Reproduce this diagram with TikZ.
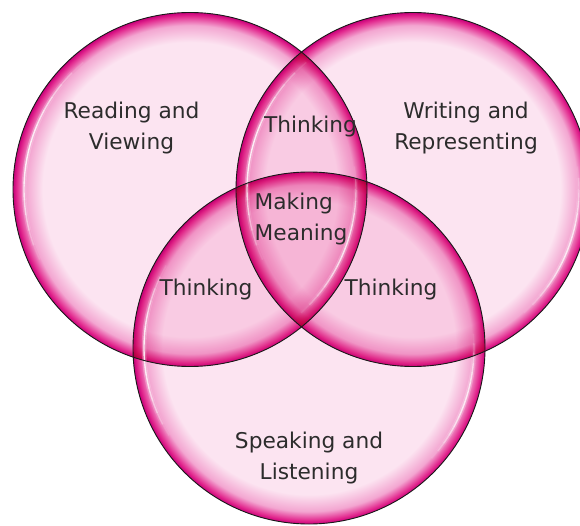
\documentclass[tikz,border=0pt]{standalone}
\usepackage{fontspec}
\setmainfont{DejaVu Sans}
\usetikzlibrary{calc}
\definecolor{lightpk}{HTML}{FCE4F1}
\definecolor{midpk}{HTML}{F3A6D1}
\definecolor{rimpk}{HTML}{E2288E}
\definecolor{rimdk}{HTML}{C8007A}
\definecolor{txt}{HTML}{2C2C2C}
\pgfdeclareradialshading{glassring}{\pgfpoint{0bp}{0bp}}{color(0bp)=(lightpk); color(20.8bp)=(lightpk); color(23.2bp)=(midpk); color(24.5bp)=(rimpk); color(25bp)=(rimdk); color(50bp)=(rimdk)}
\newcommand\mkglint[6]{% center, radius, start, end, width, max opacity
  \foreach \i in {0,...,13}{%
    \pgfmathsetmacro\aa{#3+(#4-#3)*\i/14}%
    \pgfmathsetmacro\ab{#3+(#4-#3)*(\i+1)/14}%
    \pgfmathsetmacro\op{#6*sin(180*(\i+0.5)/14)}%
    \draw[white, line width=#5, draw opacity=\op, line cap=butt] ($(#1)+(\aa:#2)$) arc[start angle=\aa, end angle=\ab, radius=#2];
  }}
\newcommand\mkshine[5]{% center, radius, start, end, max opacity
  \mkglint{#1}{#2}{#3}{#4}{4.5pt}{0.3*#5}
  \mkglint{#1}{#2}{#3}{#4}{1.4pt}{#5}
}
\tikzset{
  ring/.style={shading=glassring, blend mode=multiply},
  rimline/.style={draw=black!90, line width=0.9pt},
  lbl/.style={text=txt, font=\fontsize{21.7}{31.5}\selectfont, inner sep=0pt, align=center}
}
\begin{document}
\begin{tikzpicture}[x=1pt,y=1pt]
\useasboundingbox (0,0) rectangle (580,525);
\coordinate (cL) at (190,335.5);
\coordinate (cR) at (413,335.5);
\coordinate (cB) at (309,177);
% glassy discs
\shade[ring] (cL) circle[radius=177];
\shade[ring] (cR) circle[radius=177];
\shade[ring] (cB) circle[radius=176];
% highlights
\mkshine{cL}{166}{130}{205}{0.85}
\mkshine{cR}{166}{130}{205}{0.85}
\mkshine{cB}{165}{150}{212}{0.85}
\mkshine{cL}{166}{-48}{8}{0.75}
\mkshine{cR}{166}{-48}{8}{0.75}
\mkshine{cB}{165}{-42}{5}{0.75}
% outlines
\draw[rimline] (cL) circle[radius=177];
\draw[rimline] (cR) circle[radius=177];
\draw[rimline] (cB) circle[radius=176];
% labels
\node[lbl] (rv) at (131.5,397) {Reading and\\Viewing};
\node[lbl] (wr) at (466,397) {Writing and\\Representing};
\node[lbl] (tt) at (310.5,398.5) {Thinking};
\node[lbl, anchor=west, align=left] (mm) at (254.5,306) {Making\\Meaning};
\node[lbl] (tl) at (206,235.5) {Thinking};
\node[lbl] (tr) at (391,235.5) {Thinking};
\node[lbl] (sl) at (309,67) {Speaking and\\Listening};
\end{tikzpicture}
\end{document}
